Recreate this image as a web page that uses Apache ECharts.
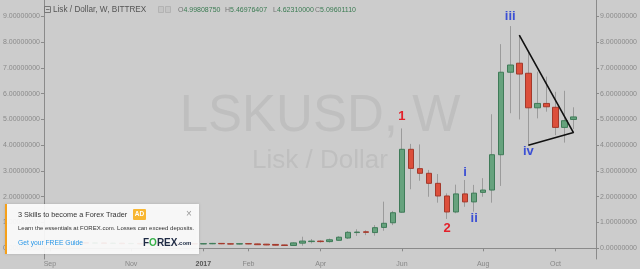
<!DOCTYPE html>
<html><head><meta charset="utf-8">
<script src="https://cdn.jsdelivr.net/npm/echarts@6/dist/echarts.min.js"></script>
<style>html,body{margin:0;padding:0;background:#cccccc}#c{width:640px;height:269px}</style>
</head><body><div id="c"></div>
<script>
// weekly candles, first week Monday 2016-09-05
const firstWeek = '2016-09-05';
const slotCount = 61; // includes 2 empty weeks at the right
const openV  = [0.24,0.22,0.23,0.21,0.22,0.20,0.21,0.19,0.20,0.18,0.19,0.17,0.18,0.17,0.18,0.17,0.18,0.17,0.175,0.19,0.175,0.165,0.18,0.17,0.16,0.15,0.13,0.11,0.20,0.26,0.28,0.26,0.31,0.40,0.61,0.64,0.61,0.81,0.99,1.40,3.84,3.09,2.91,2.52,2.03,1.41,2.11,1.80,2.17,2.26,3.63,6.83,7.18,6.79,5.45,5.62,5.47,4.69,4.9980875];
const closeV = [0.22,0.23,0.21,0.22,0.20,0.21,0.19,0.20,0.18,0.19,0.17,0.18,0.17,0.18,0.17,0.18,0.17,0.18,0.19,0.175,0.165,0.18,0.17,0.14,0.13,0.12,0.11,0.21,0.28,0.28,0.26,0.33,0.43,0.62,0.63,0.62,0.80,0.97,1.38,3.84,3.10,2.91,2.52,2.03,1.41,2.11,1.80,2.14,2.26,3.63,6.83,7.11,6.76,5.45,5.62,5.49,4.69,4.95,5.0960111];
const lowV   = [0.20,0.20,0.19,0.19,0.18,0.18,0.17,0.17,0.16,0.16,0.15,0.15,0.15,0.15,0.15,0.16,0.15,0.16,0.16,0.16,0.15,0.15,0.16,0.13,0.12,0.11,0.10,0.10,0.10,0.19,0.22,0.22,0.30,0.36,0.48,0.51,0.49,0.68,0.90,1.38,2.29,2.62,2.00,1.77,1.14,1.36,1.61,1.42,2.00,1.77,2.42,5.24,5.00,4.00,5.04,5.30,4.39,4.10,4.6231];
const highV  = [0.27,0.25,0.24,0.24,0.23,0.23,0.22,0.22,0.21,0.21,0.20,0.20,0.19,0.20,0.19,0.20,0.19,0.20,0.21,0.20,0.19,0.20,0.19,0.18,0.17,0.16,0.14,0.23,0.45,0.36,0.31,0.38,0.47,0.67,0.74,0.70,0.90,1.81,1.45,4.65,4.05,4.03,3.04,2.88,2.13,2.47,2.65,2.46,2.72,5.20,7.92,8.62,8.27,7.60,6.85,6.66,6.07,6.11,5.46976407];
const yTicks = [0,1,2,3,4,5,6,7,8,9];
const tickDates = ['2016-09-05','2016-11-07','2017-01-02','2017-02-06','2017-04-03','2017-06-05','2017-08-07','2017-10-02'];
const tickTexts = ['Sep','Nov','2017','Feb','Apr','Jun','Aug','Oct'];
// Elliott wave annotations
const waveWeek = [39,44,46,47,51,53];
const wavePrice = [5.13,0.79,2.96,1.14,9.01,3.74];
const waveText = ['1','2','i','ii','iii','iv'];
const waveRed = [true,true,false,false,false,false];
// triangle line
const triWeek = [52,58,53];
const triPrice = [8.27,4.49,4.00];

const weeks = [];
{
  const d0 = new Date(firstWeek + 'T00:00:00Z');
  for (let i = 0; i < slotCount; i++) {
    const d = new Date(d0.getTime() + i * 7 * 86400000);
    weeks.push(d.toISOString().slice(0, 10));
  }
}
const tickMap = {};
tickDates.forEach((d, i) => tickMap[d] = tickTexts[i]);

const full = openV.map((o, i) => [o, closeV[i], lowV[i], highV[i]]);
const bodies = openV.map((o, i) => [o, closeV[i], Math.min(o, closeV[i]), Math.max(o, closeV[i])]);

const Y_MIN = -0.415, Y_MAX = 9.632;
const axisCol = '#8a8a8a';
const lastI = openV.length - 1;
const FF = 'Liberation Sans, Arial, sans-serif';

const yAxisCommon = {
  type: 'value', min: Y_MIN, max: Y_MAX, splitLine: { show: false },
  axisLine: { show: true, lineStyle: { color: axisCol } },
  axisTick: { show: true, length: 3, customValues: yTicks, lineStyle: { color: axisCol } },
  axisLabel: { customValues: yTicks, fontSize: 7, color: '#8a8a8a', margin: 4,
    fontFamily: FF, formatter: v => v.toFixed(8) }
};
const RED = '#e3202a', BLUE = '#3b4fd4';

const chart = echarts.init(document.getElementById('c'), null, { renderer: 'canvas' });
chart.setOption({
  animation: false,
  backgroundColor: '#cccccc',
  grid: { left: 41.4, right: 40.9, top: 0, bottom: 10, containLabel: false },
  xAxis: {
    type: 'category', data: weeks, boundaryGap: true,
    axisLine: { lineStyle: { color: axisCol } },
    axisTick: { show: true, length: 3, alignWithLabel: true, interval: (i, v) => tickMap[v] !== undefined, lineStyle: { color: axisCol } },
    axisLabel: {
      interval: (i, v) => tickMap[v] !== undefined, margin: 2, fontSize: 7, color: '#888',
      fontFamily: FF,
      formatter: v => { const t = tickMap[v] || ''; return /^\d{4}$/.test(t) ? '{b|' + t + '}' : t; },
      rich: { b: { fontSize: 7, fontWeight: 'bold', color: '#555', fontFamily: FF } }
    },
    splitLine: { show: false }
  },
  yAxis: [
    Object.assign({}, yAxisCommon, { position: 'left', offset: 1.4 }),
    Object.assign({}, yAxisCommon, { position: 'right' })
  ],
  title: [
    { text: 'LSKUSD, W', left: 'center', top: 86,
      textStyle: { fontSize: 51, fontWeight: 'normal', color: '#bfbfbf', fontFamily: FF } },
    { text: 'Lisk / Dollar', left: 'center', top: 143,
      textStyle: { fontSize: 26, fontWeight: 'normal', color: '#bfbfbf', fontFamily: FF } }
  ],
  series: [
    { type: 'candlestick', name: 'wick', data: full, barWidth: 1, z: 2,
      itemStyle: { color: '#9b9b9b', color0: '#9b9b9b', borderColor: '#9b9b9b', borderColor0: '#9b9b9b', borderWidth: 1 } },
    { type: 'candlestick', name: 'body', data: bodies, barWidth: 6, z: 3,
      itemStyle: { color: '#66a27d', color0: '#dc4f3b', borderColor: '#3f7b58', borderColor0: '#a3392b', borderWidth: 1 } },
    { type: 'line', data: triWeek.map((w, i) => [weeks[w], triPrice[i]]), showSymbol: false, symbol: 'none', z: 5,
      lineStyle: { color: '#111', width: 1.6 } },
    { type: 'scatter', symbolSize: 0, z: 6,
      data: waveWeek.map((w, i) => ({ value: [weeks[w], wavePrice[i]],
        itemStyle: { color: waveRed[i] ? RED : BLUE, opacity: 1 },
        label: { show: true, position: 'inside', formatter: waveText[i], fontSize: 13, fontWeight: 'bold',
          color: waveRed[i] ? RED : BLUE, opacity: 1, fontFamily: FF } })) }
  ],
  graphic: [
    // header
    { type: 'rect', shape: { x: 44.5, y: 6.5, width: 6, height: 6 }, style: { fill: 'none', stroke: '#777', lineWidth: 1 }, z: 10 },
    { type: 'line', shape: { x1: 46, y1: 9.5, x2: 49.5, y2: 9.5 }, style: { stroke: '#777', lineWidth: 1 }, z: 10 },
    { type: 'text', x: 53, y: 10, style: { text: 'Lisk / Dollar, W, BITTREX', fontSize: 8.2, fill: '#555', textVerticalAlign: 'middle', fontFamily: FF }, z: 10 },
    { type: 'rect', shape: { x: 158.5, y: 6.5, width: 5, height: 6 }, style: { fill: '#c4c4c4', stroke: '#b3b3b3', lineWidth: 1 }, z: 10 },
    { type: 'rect', shape: { x: 165.5, y: 6.5, width: 5, height: 6 }, style: { fill: '#c4c4c4', stroke: '#b3b3b3', lineWidth: 1 }, z: 10 },
    { type: 'text', x: 178, y: 10, style: { text: '{k|O}{v|' + openV[lastI].toFixed(8) + '}', textVerticalAlign: 'middle',
        rich: { k: { fontSize: 7, fill: '#777', fontFamily: FF }, v: { fontSize: 7, fill: '#3a7b52', fontFamily: FF } } }, z: 10 },
    { type: 'text', x: 225, y: 10, style: { text: '{k|H}{v|' + highV[lastI].toFixed(8) + '}', textVerticalAlign: 'middle',
        rich: { k: { fontSize: 7, fill: '#777', fontFamily: FF }, v: { fontSize: 7, fill: '#3a7b52', fontFamily: FF } } }, z: 10 },
    { type: 'text', x: 273, y: 10, style: { text: '{k|L}{v|' + lowV[lastI].toFixed(8) + '}', textVerticalAlign: 'middle',
        rich: { k: { fontSize: 7, fill: '#777', fontFamily: FF }, v: { fontSize: 7, fill: '#3a7b52', fontFamily: FF } } }, z: 10 },
    { type: 'text', x: 315, y: 10, style: { text: '{k|C}{v|' + closeV[lastI].toFixed(8) + '}', textVerticalAlign: 'middle',
        rich: { k: { fontSize: 7, fill: '#777', fontFamily: FF }, v: { fontSize: 7, fill: '#3a7b52', fontFamily: FF } } }, z: 10 },
    // ad box
    { type: 'rect', shape: { x: 5, y: 204, width: 194, height: 50 }, style: { fill: 'rgba(255,255,255,0.9)', shadowBlur: 3, shadowColor: 'rgba(0,0,0,0.15)' }, z: 20 },
    { type: 'rect', shape: { x: 5, y: 204, width: 2, height: 50 }, style: { fill: '#f5a01a' }, z: 21 },
    { type: 'text', x: 18, y: 215, style: { text: '3 Skills to become a Forex Trader', fontSize: 7.3, fill: '#333', textVerticalAlign: 'middle', fontFamily: FF }, z: 21 },
    { type: 'rect', shape: { x: 133, y: 209, width: 13, height: 11, r: 1 }, style: { fill: '#f8b733' }, z: 21 },
    { type: 'text', x: 139.5, y: 214.7, style: { text: 'AD', fontSize: 6.5, fontWeight: 'bold', fill: '#fff', textAlign: 'center', textVerticalAlign: 'middle', fontFamily: FF }, z: 22 },
    { type: 'text', x: 189, y: 214, style: { text: '×', fontSize: 10, fill: '#999', textAlign: 'center', textVerticalAlign: 'middle', fontFamily: FF }, z: 21 },
    { type: 'text', x: 18, y: 228.5, style: { text: 'Learn the essentials at FOREX.com. Losses can exceed deposits.', fontSize: 6.0, fill: '#333', textVerticalAlign: 'middle', fontFamily: FF }, z: 21 },
    { type: 'text', x: 18, y: 243, style: { text: 'Get your FREE Guide', fontSize: 6.7, fill: '#2a98e8', textVerticalAlign: 'middle', fontFamily: FF }, z: 21 },
    { type: 'text', x: 143, y: 243, style: { text: '{a|F}{g|O}{a|REX}{c|.com}', textVerticalAlign: 'middle',
        rich: { a: { fontSize: 10, fontWeight: 'bold', fill: '#1f2b45', fontFamily: FF },
                g: { fontSize: 10, fontWeight: 'bold', fill: '#37b24a', fontFamily: FF },
                c: { fontSize: 6, fontWeight: 'bold', fill: '#1f2b45', fontFamily: FF } } }, z: 21 }
  ]
});
</script></body></html>
